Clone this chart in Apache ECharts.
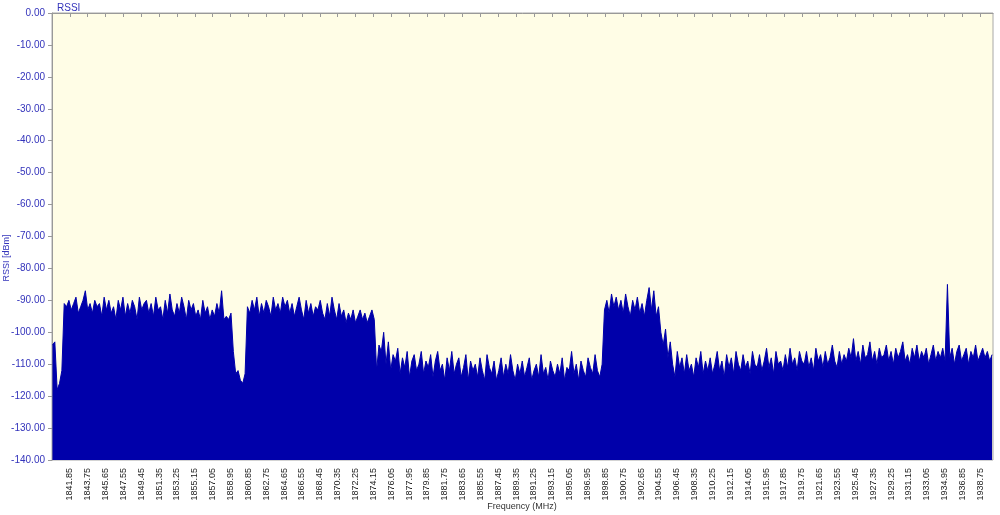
<!DOCTYPE html>
<html>
<head>
<meta charset="utf-8">
<script src="https://cdn.jsdelivr.net/npm/echarts@6/dist/echarts.min.js"></script>
<style>
    html, body { margin: 0; padding: 0; background: #fff; }
    #chart { width: 1000px; height: 515px; }
</style>
</head>
<body>
<div id="chart"></div>
<script>
'use strict';

// sweep start and step, MHz
var freqStart = 1840.0;
var freqStep = 0.25;

// RSSI samples, dBm (one row = 5 MHz)
var rssi = [
    -104, -103, -118, -116, -112, -91, -92, -90, -93, -91, -89, -94, -92, -90, -87, -93, -91, -94, -90, -92,
    -91, -95, -89, -93, -90, -94, -92, -96, -90, -93, -89, -95, -91, -94, -90, -92, -96, -89, -93, -91,
    -90, -94, -91, -95, -89, -93, -92, -96, -90, -94, -88, -93, -95, -91, -94, -89, -92, -96, -90, -93,
    -91, -95, -93, -96, -90, -94, -92, -96, -93, -95, -91, -94, -87, -96, -95, -96, -94, -106, -113, -112,
    -115, -116, -113, -92, -94, -90, -93, -89, -95, -91, -94, -90, -92, -95, -89, -93, -91, -94, -89, -92,
    -90, -94, -91, -95, -92, -89, -93, -96, -90, -94, -91, -95, -92, -93, -90, -94, -96, -91, -95, -89,
    -93, -96, -91, -95, -93, -97, -94, -96, -93, -97, -95, -93, -96, -94, -97, -95, -93, -96, -112, -104,
    -106, -100, -110, -103, -112, -107, -109, -105, -113, -108, -111, -106, -114, -109, -107, -112, -110, -106, -113, -109,
    -111, -107, -114, -109, -106, -112, -110, -115, -108, -112, -106, -113, -110, -108, -114, -111, -107, -115, -109, -112,
    -110, -114, -108, -112, -115, -107, -111, -113, -109, -115, -112, -108, -114, -110, -113, -107, -112, -115, -110, -113,
    -109, -114, -111, -108, -115, -112, -110, -114, -107, -113, -111, -115, -109, -112, -114, -110, -113, -108, -115, -111,
    -112, -106, -113, -110, -115, -109, -112, -114, -108, -111, -113, -107, -112, -114, -110, -93, -90, -94, -88, -92,
    -89, -93, -90, -94, -88, -92, -95, -90, -93, -89, -94, -91, -95, -90, -86, -93, -87, -95, -92, -100,
    -104, -99, -108, -103, -110, -114, -106, -111, -108, -113, -107, -112, -110, -114, -108, -111, -106, -113, -109, -112,
    -108, -113, -110, -106, -112, -109, -114, -107, -111, -108, -113, -106, -110, -112, -107, -111, -109, -113, -106, -110,
    -111, -107, -112, -109, -105, -111, -108, -113, -106, -110, -109, -112, -107, -111, -105, -110, -108, -112, -106, -109,
    -110, -106, -111, -108, -112, -105, -109, -107, -111, -106, -110, -108, -104, -109, -111, -106, -110, -107, -109, -105,
    -108, -102, -109, -106, -110, -104, -108, -107, -103, -109, -106, -110, -105, -108, -107, -104, -109, -106, -110, -105,
    -108, -106, -103, -109, -107, -110, -105, -108, -104, -109, -106, -108, -105, -110, -107, -104, -109, -106, -108, -105,
    -109, -85, -108, -105, -110, -106, -104, -109, -107, -105, -110, -106, -108, -104, -109, -107, -105, -108, -106, -109,
    -107
];

var points = rssi.map(function (v, i) {
    return [freqStart + i * freqStep, v];
});

var chart = echarts.init(document.getElementById('chart'));
var blue = '#3333bb';

chart.setOption({
    animation: false,
    backgroundColor: '#ffffff',
    textStyle: { fontFamily: 'Liberation Sans, Arial, sans-serif' },
    title: {
        text: 'RSSI',
        left: 52, top: -2,
        textStyle: { fontSize: 10, fontWeight: 'normal', color: blue }
    },
    graphic: [{
        type: 'text',
        x: 2, y: 258,
        rotation: Math.PI / 2,
        style: {
            text: 'RSSI [dBm]', fill: blue, fontSize: 9,
            align: 'center', verticalAlign: 'top',
            fontFamily: 'Liberation Sans, Arial, sans-serif'
        }
    }, {
        type: 'text',
        x: 522, y: 502,
        style: {
            text: 'Frequency (MHz)', fill: '#333', fontSize: 9,
            align: 'center', verticalAlign: 'top',
            fontFamily: 'Liberation Sans, Arial, sans-serif'
        }
    }],
    grid: {
        left: 52, right: 7, top: 13, bottom: 55,
        containLabel: false, outerBoundsMode: 'none',
        show: true, backgroundColor: '#fffde6', borderColor: '#a8a8a8', borderWidth: 1
    },
    xAxis: {
        type: 'value',
        min: 1839.95, max: 1940.1, interval: 1.9,
        axisLine: { show: true, lineStyle: { color: '#999' } },
        axisTick: { show: true, length: 4, lineStyle: { color: '#999' } },
        splitLine: { show: false },
        axisLabel: {
            rotate: 90, fontSize: 9, color: '#222', margin: 8,
            showMinLabel: false, showMaxLabel: false,
            formatter: function (v) { return v.toFixed(2); }
        }
    },
    yAxis: {
        type: 'value',
        min: -140, max: 0, interval: 10,
        axisLine: { show: true, lineStyle: { color: '#999' } },
        axisTick: { show: true, length: 4, lineStyle: { color: '#999' } },
        splitLine: { show: false },
        axisLabel: {
            fontSize: 10, color: blue, margin: 7,
            formatter: function (v) { return v.toFixed(2); }
        }
    },
    series: [{
        type: 'line',
        data: points,
        showSymbol: false,
        lineStyle: { color: '#0000aa', width: 1 },
        areaStyle: { color: '#0000aa', opacity: 1, origin: 'start' }
    }]
});
</script>
</body>
</html>
